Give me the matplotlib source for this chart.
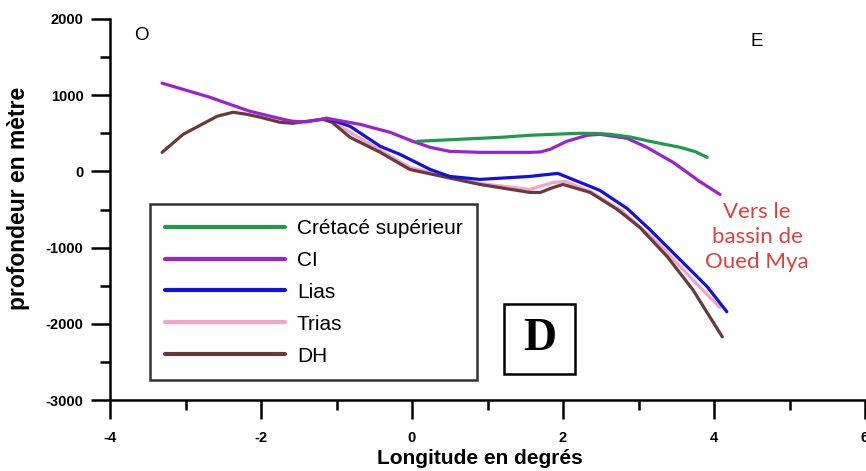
import numpy as np
import matplotlib.pyplot as plt
from matplotlib.patches import Rectangle

plt.rcParams["font.family"] = ["Liberation Sans", "DejaVu Sans"]
plt.rcParams["axes.unicode_minus"] = False

# profile data (longitude in degrees, depth in metres)
cret_x = [0.07, 0.6, 1.17, 1.56, 2.0, 2.23, 2.45, 2.62, 2.9, 3.15, 3.55, 3.75, 3.91]
cret_y = [395, 420, 447, 474, 492, 500, 497, 487, 450, 395, 316, 260, 184]

ci_x = [-3.31, -2.7, -2.15, -1.71, -1.58, -1.4, -1.13, -0.69, -0.29, 0.01, 0.24, 0.50,
        0.90, 1.56, 1.70, 1.83, 2.05, 2.32, 2.49, 2.85, 3.11, 3.46, 3.81, 4.08]
ci_y = [1158, 980, 790, 684, 658, 650, 697, 618, 513, 395, 316, 263,
        250, 250, 255, 290, 395, 474, 487, 434, 316, 118, -132, -303]

lias_x = [-1.13, -0.82, -0.42, -0.16, 0.24, 0.50, 0.90, 1.56, 1.93, 2.13, 2.49, 2.85,
          3.15, 3.55, 3.91, 4.17]
lias_y = [697, 592, 329, 224, 26, -66, -105, -66, -26, -105, -250, -487,
          -763, -1158, -1513, -1842]

trias_x = [-1.13, -0.82, -0.33, -0.03, 0.46, 0.90, 1.56, 1.87, 2.03, 2.36, 2.79, 3.25,
           3.68, 4.08]
trias_y = [697, 513, 224, 53, -66, -158, -237, -145, -132, -263, -526, -934,
           -1382, -1789]

dh_x = [-3.31, -3.03, -2.58, -2.37, -2.19, -2.01, -1.75, -1.58, -1.39, -1.18, -1.06,
        -0.82, -0.42, -0.03, 0.46, 0.90, 1.56, 1.70, 1.87, 2.00, 2.36, 2.72, 3.02,
        3.38, 3.72, 4.11]
dh_y = [250, 487, 724, 776, 750, 711, 645, 632, 658, 684, 645,
        447, 250, 26, -79, -171, -276, -276, -211, -171, -276, -500, -737,
        -1118, -1553, -2171]

fig = plt.figure(figsize=(8.66, 4.71), dpi=100)
ax = fig.add_axes([110 / 866, 1 - 400 / 471, 755 / 866, 381 / 471])

lw = 2.3
kw = dict(lw=lw, solid_joinstyle="round", solid_capstyle="round")
l_trias, = ax.plot(trias_x, trias_y, color="#f5a3cc", label="Trias", **kw)
l_dh, = ax.plot(dh_x, dh_y, color="#6a3a3a", label="DH", **kw)
l_lias, = ax.plot(lias_x, lias_y, color="#1212dc", label="Lias", **kw)
l_ci, = ax.plot(ci_x, ci_y, color="#9b22cf", label="CI", **kw)
l_cret, = ax.plot(cret_x, cret_y, color="#1f9a48", label="Crétacé supérieur", **kw)

ax.set_xlim(-4, 6)
ax.set_ylim(-3000, 2000)
ax.set_xticks(np.arange(-4, 7, 2))
ax.set_xticks(np.arange(-3, 7, 2), minor=True)
ax.set_yticks(np.arange(-3000, 2001, 1000))
ax.set_yticks(np.arange(-2500, 2000, 1000), minor=True)

for side in ["top", "right"]:
    ax.spines[side].set_visible(False)
for side in ["left", "bottom"]:
    ax.spines[side].set_linewidth(1.8)

ax.tick_params(which="major", length=14, width=1.8, labelsize=10.5)
ax.tick_params(which="minor", length=7.5, width=1.8)
ax.tick_params(axis="x", pad=8)
ax.tick_params(axis="y", pad=5)
for lab in ax.get_xticklabels() + ax.get_yticklabels():
    lab.set_fontweight("bold")

ax.set_xlabel("Longitude en degrés", fontsize=15, fontweight="bold")
ax.xaxis.set_label_coords(0.49, -0.128)
ax.xaxis.label.set_va("top")
ax.set_ylabel("profondeur en mètre", fontsize=16.5, fontweight="bold")
ax.yaxis.set_label_coords(-0.106, 0.53)

leg = ax.legend(handles=[l_cret, l_ci, l_lias, l_trias, l_dh],
                loc="lower left", bbox_to_anchor=(0.053, 0.052),
                borderaxespad=0, fontsize=15, frameon=True, fancybox=False,
                handlelength=5.8, handletextpad=0.55, labelspacing=0.62,
                borderpad=0.7)
leg.get_frame().set_edgecolor("black")
leg.get_frame().set_linewidth(1.8)
for h in leg.get_lines():
    h.set_linewidth(3)

ax.text(-3.59, 1777, "O", fontsize=13.5, ha="center", va="center")
ax.text(4.57, 1711, "E", fontsize=13.5, ha="center", va="center")

ax.add_patch(Rectangle((1.22, -2658), 0.94, 921, fill=False, ec="black", lw=1.8))
ax.text(1.69, -2197, "D", family="Liberation Serif", fontsize=33, fontweight="bold",
        ha="center", va="center")

ax.text(4.57, -860, "Vers le\nbassin de\nOued Mya", family="Lato", fontsize=16,
        color="#e0403c", ha="center", va="center", linespacing=1.3)

fig.savefig("out.png", dpi=100)
